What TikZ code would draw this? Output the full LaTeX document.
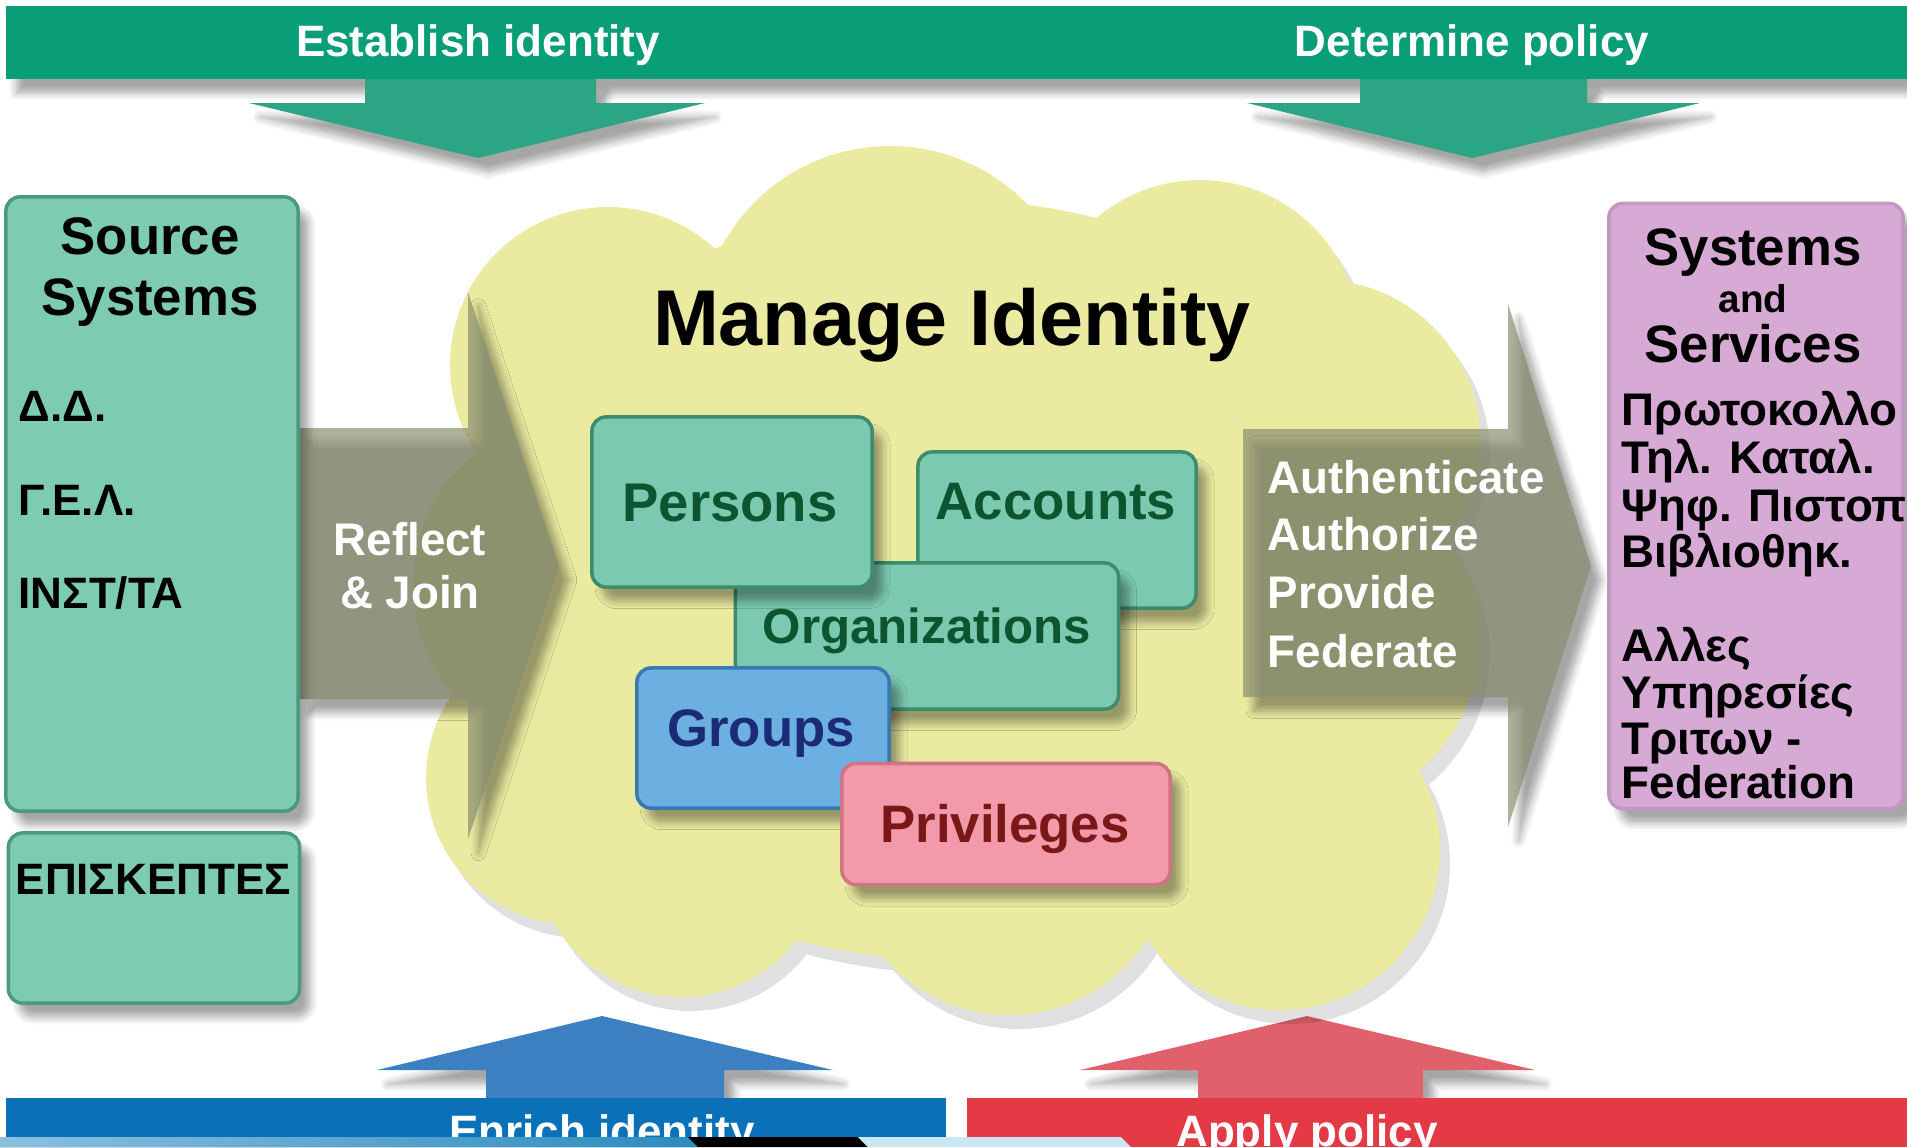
\documentclass[tikz,border=0pt]{standalone}
\usepackage{fontspec}
\setmainfont{Liberation Sans}
\usetikzlibrary{shadows.blur}

\definecolor{bargreen}{HTML}{0A9E78}
\definecolor{arrgreen}{HTML}{2CA584}
\definecolor{srcfill}{HTML}{7ECBB3}
\definecolor{srcline}{HTML}{4A9A7E}
\definecolor{sysfill}{HTML}{D7A9D5}
\definecolor{sysline}{HTML}{C596C3}
\definecolor{cloudfill}{HTML}{EAEAA0}
\definecolor{flowgrey}{HTML}{8A8F70}
\definecolor{boxfill}{HTML}{7CC9B1}
\definecolor{boxline}{HTML}{3D8C6C}
\definecolor{boxtext}{HTML}{0D5530}
\definecolor{grpfill}{HTML}{6CB0E2}
\definecolor{grpline}{HTML}{3A78B0}
\definecolor{grptext}{HTML}{1C2A78}
\definecolor{privfill}{HTML}{F29AAA}
\definecolor{privline}{HTML}{D07484}
\definecolor{privtext}{HTML}{7A1818}
\definecolor{enrichbar}{HTML}{0A70B8}
\definecolor{enricharr}{HTML}{3C80C2}
\definecolor{applybar}{HTML}{E33A46}
\definecolor{applyarr}{HTML}{E0606C}
\definecolor{stripblue}{HTML}{2A8CC2}
\definecolor{striplight}{HTML}{C9E6F2}

\newcommand{\bsize}[1]{\fontsize{#1}{#1}\selectfont\bfseries}

\begin{document}
\begin{tikzpicture}[x=0.01cm,y=-0.01cm,
  softshadow/.style={blur shadow={shadow xshift=3pt,shadow yshift=-4pt,shadow opacity=35,shadow blur steps=6}},
  sidebox/.style={rounded corners=4pt,line width=1pt,inner sep=0pt,softshadow},
  entity/.style={draw=boxline,fill=boxfill,rounded corners=4pt,line width=1pt,inner sep=0pt,softshadow},
  entitytext/.style={anchor=base,inner sep=0pt,text=boxtext,font=\bsize{15}},
  flowarrow/.style={fill=flowgrey,opacity=.7,softshadow},
  flowtext/.style={inner sep=0pt,text=white,font=\bsize{13}},
  bartext/.style={anchor=base,inner sep=0pt,text=white,font=\bsize{12.5}},
  itemtext/.style={anchor=base west,inner sep=0pt,font=\bsize{12.5}},
  titletext/.style={anchor=base,inner sep=0pt,font=\bsize{15}}]
\useasboundingbox (0,0) rectangle (1907,1147);

\fill[bargreen,softshadow] (6,6) rectangle (1907,79);
\fill[arrgreen,softshadow] (365,79) -- (365,103) -- (249,103) -- (478,158) -- (705,103) -- (596,103) -- (596,79) -- cycle;
\fill[arrgreen,softshadow] (1360,79) -- (1360,103) -- (1247,103) -- (1472,158) -- (1700,103) -- (1587,103) -- (1587,79) -- cycle;
\node[bartext] (establish) at (478,56) {Establish identity};
\node[bartext] (determine) at (1472,56) {Determine policy};

\fill[enricharr,softshadow] (486,1098) -- (486,1070) -- (377,1070) -- (602,1016) -- (833,1070) -- (724,1070) -- (724,1098) -- cycle;
\fill[applyarr,softshadow] (1198,1098) -- (1198,1070) -- (1080,1070) -- (1307,1016) -- (1535,1070) -- (1423,1070) -- (1423,1098) -- cycle;
\fill[enrichbar] (6,1098) rectangle (946,1147);
\fill[applybar] (967,1098) rectangle (1907,1147);
\node[bartext] (enrich) at (602,1146) {Enrich identity};
\node[bartext] (apply) at (1307,1146) {Apply policy};

\fill[black,opacity=.12,shift={(10,14)}] foreach \cx/\cy/\r in {890/337/191,1200/340/160,1320/440/160,1310/640/170,1280/850/160,1009/851/164,681/851/146,572/778/146,584/584/171,608/365/158} {(\cx,\cy) circle[radius=\r]} (950,580) ellipse[x radius=480,y radius=380];
\fill[cloudfill] foreach \cx/\cy/\r in {890/337/191,1200/340/160,1320/440/160,1310/640/170,1280/850/160,1009/851/164,681/851/146,572/778/146,584/584/171,608/365/158} {(\cx,\cy) circle[radius=\r]} (950,580) ellipse[x radius=480,y radius=380];
\node[anchor=base,inner sep=0pt,font=\bsize{22.5}] (manage) at (952,345) {Manage Identity};

\fill[flowarrow] (298,428) -- (468,428) -- (468,292) -- (559,566) -- (468,839) -- (468,699) -- (298,699) -- cycle;
\fill[flowarrow] (1243,429) -- (1508,429) -- (1508,304) -- (1591,566) -- (1508,827) -- (1508,697) -- (1243,697) -- cycle;
\node[flowtext,anchor=base] (reflect) at (410,555) {Reflect};
\node[flowtext,anchor=base] (join) at (410,608) {\& Join};
\foreach \txt/\yy in {Authenticate/493,Authorize/550,Provide/608,Federate/667}
  \node[flowtext,anchor=base west] (out\yy) at (1267,\yy) {\txt};

\node[sidebox,draw=srcline,fill=srcfill,minimum width=2.92cm,minimum height=6.14cm] (source) at (152,504) {};
\node[titletext] (sourcea) at (150,254) {Source};
\node[titletext] (sourceb) at (150,315) {Systems};
\foreach \txt/\yy in {Δ.Δ./421,Γ.Ε.Λ./515,{ΙΝΣΤ/ΤΑ}/608}
  \node[itemtext] (src\yy) at (18,\yy) {\txt};
\node[sidebox,draw=srcline,fill=srcfill,minimum width=2.91cm,minimum height=1.70cm] (visitors) at (154,918) {};
\node[itemtext] (visitorst) at (15,894) {ΕΠΙΣΚΕΠΤΕΣ};

\node[sidebox,draw=sysline,fill=sysfill,minimum width=2.94cm,minimum height=6.05cm] (systems) at (1756,506) {};
\node[titletext] (systemsa) at (1753,265) {Systems};
\node[titletext,font=\bsize{11}] (systemsb) at (1753,312) {and};
\node[titletext] (systemsc) at (1753,362) {Services};
\foreach \txt/\yy in {Πρωτοκολλο/425,Τηλ. Καταλ./473,Ψηφ. Πιστοπ/521,Βιβλιοθηκ./567,Αλλες/661,Υπηρεσίες/708,Τριτων -/754,Federation/798}
  \node[itemtext,font=\bsize{13}] (sys\yy) at (1621,\yy) {\txt};

\node[entity,minimum width=2.78cm,minimum height=1.56cm] (accounts) at (1057,530) {};
\node[entity,minimum width=3.83cm,minimum height=1.46cm] (orgs) at (927,636) {};
\node[entity,minimum width=2.80cm,minimum height=1.70cm] (persons) at (732,502) {};
\node[entity,draw=grpline,fill=grpfill,minimum width=2.52cm,minimum height=1.40cm] (groups) at (763,738) {};
\node[entity,draw=privline,fill=privfill,minimum width=3.28cm,minimum height=1.21cm] (privs) at (1006,824) {};
\node[entitytext,font=\bsize{15.5}] (personst) at (730,521) {Persons};
\node[entitytext] (accountst) at (1056,519) {Accounts};
\node[entitytext,font=\bsize{14}] (orgst) at (927,643) {Organizations};
\node[entitytext,text=grptext] (groupst) at (761,746) {Groups};
\node[entitytext,text=privtext] (privst) at (1005,842) {Privileges};

\fill[left color=stripblue!55!white,right color=stripblue] (0,1137) -- (688,1137) -- (698,1147) -- (0,1147) -- cycle;
\fill[black] (688,1137) -- (858,1137) -- (868,1147) -- (698,1147) -- cycle;
\fill[striplight] (858,1137) -- (1121,1137) -- (1131,1147) -- (868,1147) -- cycle;
\end{tikzpicture}
\end{document}
